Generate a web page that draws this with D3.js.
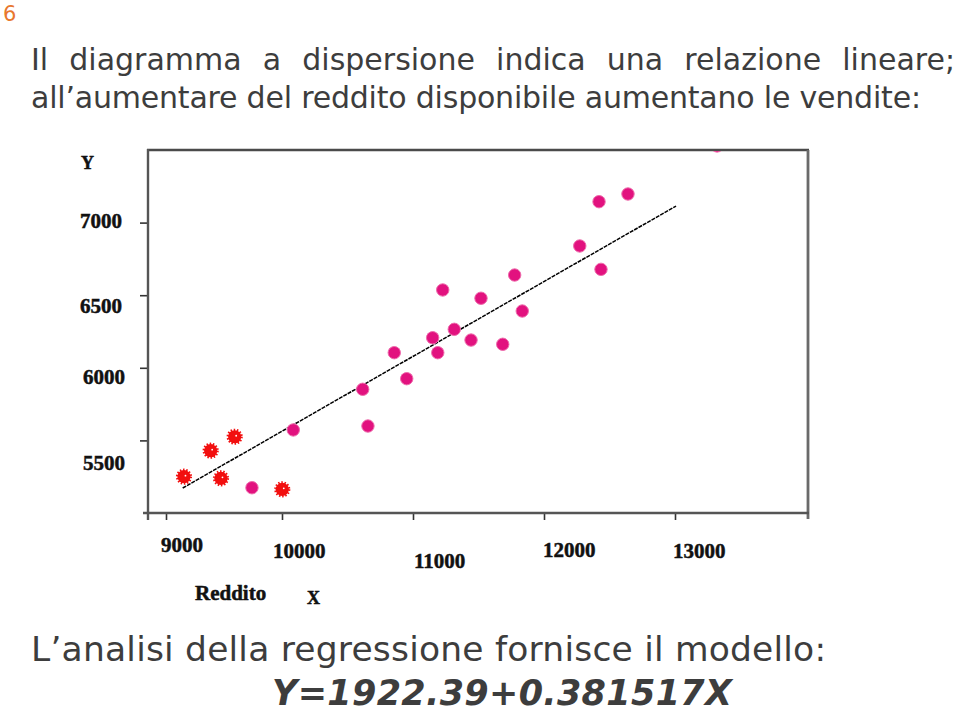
<!DOCTYPE html>
<html><head><meta charset="utf-8">
<script src="https://cdn.jsdelivr.net/npm/d3@7"></script>
<style>html,body{margin:0;padding:0;background:#fff;} svg{display:block}</style>
</head><body><svg id="c" width="959" height="712"></svg>
<script>
// ---------- data ----------
const pageNumber = "6";
const headingWords = ["Il","diagramma","a","dispersione","indica","una","relazione","lineare;"];
const headingLine2 = "all’aumentare del reddito disponibile aumentano le vendite:";
const footerLine = "L’analisi della regressione fornisce il modello:";
const modelText = "Y=1922.39+0.381517X";

const xTicks = [9000, 10000, 11000, 12000, 13000];
const xTickLabels = ["9000", "10000", "11000", "12000", "13000"];
const yTicks = [5500, 6000, 6500, 7000];
const yTickLabels = ["5500", "6000", "6500", "7000"];
const xTitle = "Reddito";
const xSymbol = "X";
const ySymbol = "Y";

// red points (lower incomes)
const redX = [9155, 9385, 9474, 9592, 10002];
const redY = [5250, 5429, 5239, 5525, 5163];
// magenta points
const pinkX = [9741, 10086, 10616, 10656, 10857, 10952, 11150, 11189, 11227, 11315, 11443, 11519, 11685, 11776, 11834, 12273, 12435, 12420, 12641, 13321];
const pinkY = [5174, 5572, 5852, 5599, 6104, 5925, 6207, 6104, 6536, 6265, 6191, 6479, 6162, 6639, 6391, 6839, 6678, 7144, 7197, 7528];
// fitted line end points (as drawn)
const fitX = [9144, 13008];
const fitY = [5172, 7114];

// ---------- layout (not data) ----------
const L = {left:148, right:808, top:150, bottom:513};
const xLabelNudge = [[-5,32],[-9,38],[1,48],[-1,37],[-2,38]];   // [dx, dy below axis]
const yLabelNudge = [[-23,22],[-23,9],[-26,10],[-26,-2]];      // [x end offset, dy]

const svg = d3.select("#c");
const x = d3.scaleLinear().domain([8845, 9000, 10000, 13000, 14015]).range([L.left, 166, 282, 675, L.right]);
const y = d3.scaleLinear().domain([5000, 7500]).range([L.bottom, L.top]);

// page number
svg.append("text").attr("x", 3).attr("y", 21).attr("font-family", "DejaVu Sans")
  .attr("font-size", 21).attr("fill", "#e8772e").text(pageNumber);

const textColor = "#3d3d3d";
// heading line 1 justified
const h1 = svg.append("g").attr("font-family", "DejaVu Sans").attr("font-size", 30).attr("fill", textColor);
const words = h1.selectAll("text").data(headingWords).join("text").attr("y", 70).text(d => d);
const widths = [];
words.each(function(){ widths.push(this.getComputedTextLength()); });
const totalW = d3.sum(widths);
const gap = (955 - 31 - totalW) / (headingWords.length - 1);
let cx = 31;
words.each(function(d, i){ d3.select(this).attr("x", cx); cx += widths[i] + gap; });

svg.append("text").attr("x", 31).attr("y", 108).attr("font-family", "DejaVu Sans")
  .attr("font-size", 30).attr("fill", textColor)
  .attr("textLength", 890).attr("lengthAdjust", "spacing").text(headingLine2);

svg.append("text").attr("x", 31).attr("y", 661).attr("font-family", "DejaVu Sans")
  .attr("font-size", 34.5).attr("fill", textColor)
  .attr("textLength", 795).attr("lengthAdjust", "spacing").text(footerLine);

svg.append("text").attr("x", 272).attr("y", 705).attr("font-family", "DejaVu Sans")
  .attr("font-size", 35).attr("font-weight", "bold").attr("font-style", "italic")
  .attr("fill", textColor).attr("textLength", 460).attr("lengthAdjust", "spacing").text(modelText);

// ---------- chart ----------
const chart = svg.append("g");

// ticks via axes
const xAxis = chart.append("g").attr("transform", `translate(0,${L.bottom})`)
  .call(d3.axisBottom(x).tickValues(xTicks).tickSize(7).tickFormat(""));
const yAxis = chart.append("g").attr("transform", `translate(${L.left},0)`)
  .call(d3.axisLeft(y).tickValues(yTicks).tickSize(8).tickFormat(""));
[xAxis, yAxis].forEach(a => {
  a.select(".domain").remove();
  a.selectAll("line").attr("stroke", "#333").attr("stroke-width", 1.6);
});

// frame
const frame = chart.append("g").attr("fill", "none");
frame.append("line").attr("x1", L.left - 1).attr("x2", L.right + 1).attr("y1", L.top).attr("y2", L.top)
  .attr("stroke", "#4a4a4a").attr("stroke-width", 2.4);
frame.append("line").attr("x1", L.right).attr("x2", L.right).attr("y1", L.top).attr("y2", L.bottom + 6)
  .attr("stroke", "#6a6a6a").attr("stroke-width", 2.8);
frame.append("line").attr("x1", L.left - 5).attr("x2", L.right + 1).attr("y1", L.bottom).attr("y2", L.bottom)
  .attr("stroke", "#555").attr("stroke-width", 2.4);
frame.append("line").attr("x1", L.left).attr("x2", L.left).attr("y1", L.top - 1).attr("y2", L.bottom + 7)
  .attr("stroke", "#555").attr("stroke-width", 2.4);

// axis labels
const lab = chart.append("g").attr("font-family", "Liberation Serif").attr("font-weight", "bold")
  .attr("font-size", 21).attr("fill", "#111").attr("stroke", "#111").attr("stroke-width", 0.5);
lab.selectAll("text.xl").data(xTicks).join("text").attr("class", "xl")
  .attr("x", (d, i) => x(d) + xLabelNudge[i][0])
  .attr("y", (d, i) => L.bottom + xLabelNudge[i][1]).attr("dy", "0.35em")
  .text((d, i) => xTickLabels[i]);
lab.selectAll("text.yl").data(yTicks).join("text").attr("class", "yl")
  .attr("text-anchor", "end")
  .attr("x", (d, i) => L.left + yLabelNudge[i][0])
  .attr("y", (d, i) => y(d) + yLabelNudge[i][1]).attr("dy", "0.35em")
  .text((d, i) => yTickLabels[i]);
lab.append("text").attr("x", 195).attr("y", 593).attr("dy", "0.35em").text(xTitle);
lab.append("text").attr("x", 307).attr("y", 598).attr("dy", "0.35em").attr("font-size", 18).text(xSymbol);
lab.append("text").attr("x", 81).attr("y", 163).attr("dy", "0.35em").attr("font-size", 18).text(ySymbol);

// clip for marks
svg.append("defs").append("clipPath").attr("id", "plotclip").append("rect")
  .attr("x", L.left).attr("y", L.top + 1).attr("width", L.right - L.left).attr("height", L.bottom - L.top);
const marks = chart.append("g").attr("clip-path", "url(#plotclip)");

// fitted line
marks.append("line")
  .attr("x1", x(fitX[0])).attr("y1", y(fitY[0]))
  .attr("x2", x(fitX[1])).attr("y2", y(fitY[1]))
  .attr("stroke", "#000").attr("stroke-width", 1.5).attr("stroke-dasharray", "4,1");

// magenta points
const pink = d3.range(pinkX.length).map(i => ({x: pinkX[i], y: pinkY[i]}));
marks.selectAll("circle.p").data(pink).join("circle").attr("class", "p")
  .attr("cx", d => x(d.x)).attr("cy", d => y(d.y)).attr("r", 6.2)
  .attr("fill", "#e2127f").attr("stroke", "#ee6aab").attr("stroke-width", 1);

// red points (spiky)
const red = d3.range(redX.length).map(i => ({x: redX[i], y: redY[i]}));
const rg = marks.selectAll("g.r").data(red).join("g").attr("class", "r")
  .attr("transform", d => `translate(${x(d.x)},${y(d.y)})`);
rg.append("circle").attr("r", 6.6).attr("fill", "#f20f0f")
  .attr("stroke", "#f20f0f").attr("stroke-width", 3).attr("stroke-dasharray", "1.4,1.6");
rg.append("circle").attr("cx", 1.5).attr("cy", -1).attr("r", 0.9).attr("fill", "#fff");
</script></body></html>
